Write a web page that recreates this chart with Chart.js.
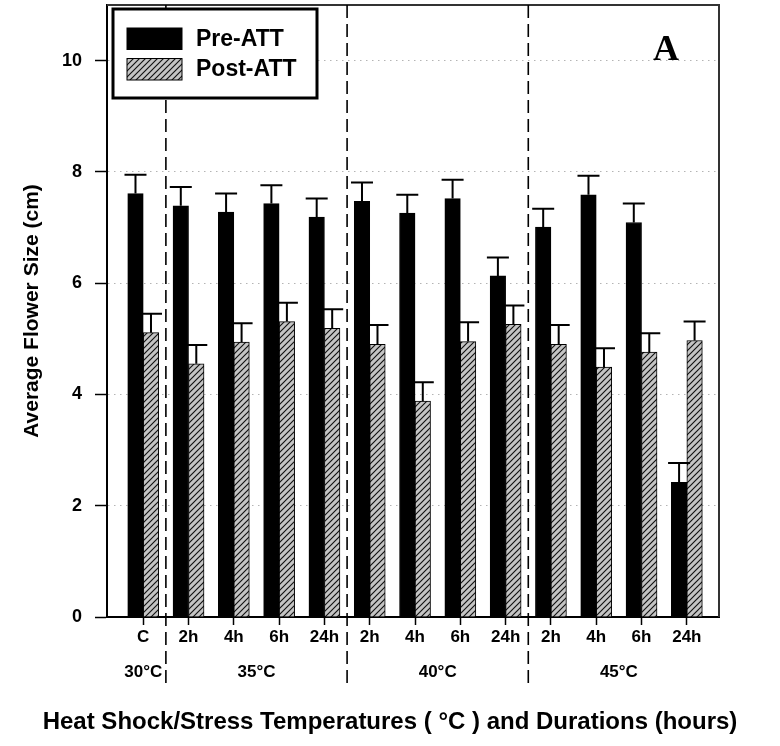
<!DOCTYPE html>
<html><head><meta charset="utf-8">
<script src="https://cdn.jsdelivr.net/npm/chart.js@4.4.1/dist/chart.umd.min.js"></script>
<style>html,body{margin:0;padding:0;background:#fff;} canvas{display:block;}</style>
</head><body>
<canvas id="c" width="780" height="746"></canvas>
<script>
// ---- data ----
const categories = ['C','2h','4h','6h','24h','2h','4h','6h','24h','2h','4h','6h','24h'];
const groupLabels = ['30°C','35°C','40°C','45°C'];
const groupStart = [0,1,5,9];
const groupEnd = [0,4,8,12];
const seriesNames = ['Pre-ATT','Post-ATT'];
const preATT  = [7.61,7.39,7.28,7.43,7.19,7.47,7.26,7.52,6.13,7.01,7.59,7.09,2.42];
const preErr  = [0.34,0.34,0.33,0.33,0.33,0.34,0.33,0.34,0.33,0.33,0.34,0.34,0.35];
const postATT = [5.11,4.55,4.94,5.31,5.19,4.90,3.88,4.95,5.26,4.90,4.49,4.76,4.97];
const postErr = [0.34,0.34,0.34,0.34,0.34,0.35,0.34,0.35,0.34,0.35,0.34,0.34,0.34];
const yTicks = [0,2,4,6,8,10];
const xTitle = 'Heat Shock/Stress Temperatures ( °C ) and Durations (hours)';
const yTitle = 'Average Flower Size (cm)';
const panelLabel = 'A';

const FONT = "'Liberation Sans', Arial, sans-serif";
const canvas = document.getElementById('c');
const ctx = canvas.getContext('2d');

function hatch(){
  const s = 6;
  const c = document.createElement('canvas'); c.width = s; c.height = s;
  const g = c.getContext('2d');
  g.fillStyle = '#c4c4c4'; g.fillRect(0,0,s,s);
  g.strokeStyle = '#111'; g.lineWidth = 1.15;
  g.beginPath();
  g.moveTo(0,s); g.lineTo(s,0);
  g.moveTo(-1,1); g.lineTo(1,-1);
  g.moveTo(s-1,s+1); g.lineTo(s+1,s-1);
  g.stroke();
  return ctx.createPattern(c,'repeat');
}
const hatchPattern = hatch();
const errArrays = [preErr, postErr];

function noPad(s){ s.paddingTop=0; s.paddingBottom=0; s.paddingLeft=0; s.paddingRight=0; }

const errorBars = {
  id:'errorBars',
  afterDatasetsDraw(chart){
    const c = chart.ctx, ys = chart.scales.y;
    chart.data.datasets.forEach((ds,di)=>{
      const meta = chart.getDatasetMeta(di);
      meta.data.forEach((bar,i)=>{
        const v = ds.data[i].y, e = errArrays[di][i];
        const yt = ys.getPixelForValue(v+e);
        c.save(); c.strokeStyle='#000'; c.lineWidth=2;
        c.beginPath();
        c.moveTo(bar.x, bar.y); c.lineTo(bar.x, yt);
        c.moveTo(bar.x-11, yt); c.lineTo(bar.x+11, yt);
        c.stroke(); c.restore();
      });
    });
  }
};

const decor = {
  id:'decor',
  afterDraw(chart){
    const c = chart.ctx, a = chart.chartArea, xs = chart.scales.x;
    c.save();
    // frame (top & right)
    c.strokeStyle = '#333'; c.lineWidth = 2;
    c.beginPath(); c.moveTo(a.left, a.top); c.lineTo(a.right, a.top); c.lineTo(a.right, a.bottom); c.stroke();
    // group separators
    c.strokeStyle = '#000'; c.lineWidth = 1.6; c.setLineDash([13,6]);
    for (let k=0;k<groupEnd.length-1;k++){
      const px = xs.getPixelForValue(groupEnd[k]+0.5);
      c.beginPath(); c.moveTo(px, a.top); c.lineTo(px, a.bottom+72); c.stroke();
    }
    c.setLineDash([]);
    // legend box
    const lx = a.left+6, ly = a.top+4, lw = 204, lh = 89;
    c.fillStyle = '#fff'; c.fillRect(lx,ly,lw,lh);
    c.strokeStyle = '#000'; c.lineWidth = 3; c.strokeRect(lx,ly,lw,lh);
    chart.data.datasets.forEach((ds,i)=>{
      const sy = a.top + 23 + i*30.5;
      c.fillStyle = ds.backgroundColor; c.fillRect(a.left+20, sy, 55, 21.5);
      c.strokeStyle = '#000'; c.lineWidth = 1; c.strokeRect(a.left+20, sy, 55, 21.5);
      c.fillStyle = '#000'; c.font = 'bold 23px '+FONT; c.textBaseline='middle'; c.textAlign='left';
      c.fillText(ds.label, a.left+89, sy+11.5);
    });
    // panel label
    c.fillStyle = '#000'; c.font = "bold 36px 'Liberation Serif', 'Times New Roman', serif";
    c.textAlign = 'center'; c.textBaseline = 'alphabetic';
    c.fillText(panelLabel, a.right-53, a.top+55);
    c.restore();
  }
};

new Chart(ctx, {
  type:'bar',
  data:{datasets:[
    {label:seriesNames[0], data:preATT.map((v,i)=>({x:i,y:v})), backgroundColor:'#000', borderColor:'#000', borderWidth:1, barThickness:15.5, xAxisID:'x', yAxisID:'y'},
    {label:seriesNames[1], data:postATT.map((v,i)=>({x:i,y:v})), backgroundColor:hatchPattern, borderColor:'#000', borderWidth:1, barThickness:15.5, xAxisID:'x', yAxisID:'y'}
  ]},
  options:{
    responsive:false, animation:false, devicePixelRatio:1,
    layout:{padding:{left:0,right:0,top:5,bottom:9.6}},
    plugins:{
      legend:{display:false}, tooltip:{enabled:false},
      title:{display:true, position:'bottom', text:xTitle, color:'#000',
        font:{family:FONT,size:24,weight:'bold',lineHeight:1.2}, padding:0}
    },
    scales:{
      x:{type:'linear', position:'bottom', min:-0.8, max:12.71, offset:false, weight:0,
        afterBuildTicks:s=>{s.ticks=categories.map((_,i)=>({value:i}));},
        afterFit:s=>{s.height=40; noPad(s);},
        ticks:{callback:(v,i)=>categories[i], font:{family:FONT,size:17,weight:'bold'}, color:'#000', padding:2, maxRotation:0, autoSkip:false},
        grid:{offset:false, drawOnChartArea:false, drawTicks:true, tickLength:8, tickColor:'#000', tickWidth:1.5},
        border:{color:'#000', width:2}},
      x2:{type:'linear', position:'bottom', min:-0.8, max:12.71, offset:false, weight:1,
        afterBuildTicks:s=>{s.ticks=groupStart.map((st,k)=>({value:(st+groupEnd[k])/2}));},
        afterFit:s=>{s.height=50.6; noPad(s);},
        ticks:{callback:(v,i)=>groupLabels[i], font:{family:FONT,size:17,weight:'bold'}, color:'#000', padding:5, maxRotation:0, autoSkip:false},
        grid:{display:false, drawTicks:false}, border:{display:false}},
      y:{type:'linear', position:'left', min:0, max:11,
        afterBuildTicks:s=>{s.ticks=yTicks.map(v=>({value:v}));},
        afterFit:s=>{s.width=107; noPad(s);},
        ticks:{font:{family:FONT,size:18,weight:'bold'}, color:'#000', padding:13},
        grid:{color:c=>(c.tick && c.tick.value===0)?'rgba(0,0,0,0)':'#b4b4b4', lineWidth:1, tickLength:12, tickColor:'#000', tickWidth:1.5},
        border:{color:'#000', width:2, dash:[1.5,4.5]},
        title:{display:true, text:yTitle, font:{family:FONT,size:21,weight:'bold'}, color:'#000', padding:{top:19.4,bottom:0}}},
      yR:{type:'linear', position:'right', min:0, max:11,
        afterFit:s=>{s.width=61; noPad(s);},
        ticks:{display:false}, grid:{display:false, drawTicks:false}, border:{display:false}}
    }
  },
  plugins:[errorBars, decor]
});
</script>
</body></html>
